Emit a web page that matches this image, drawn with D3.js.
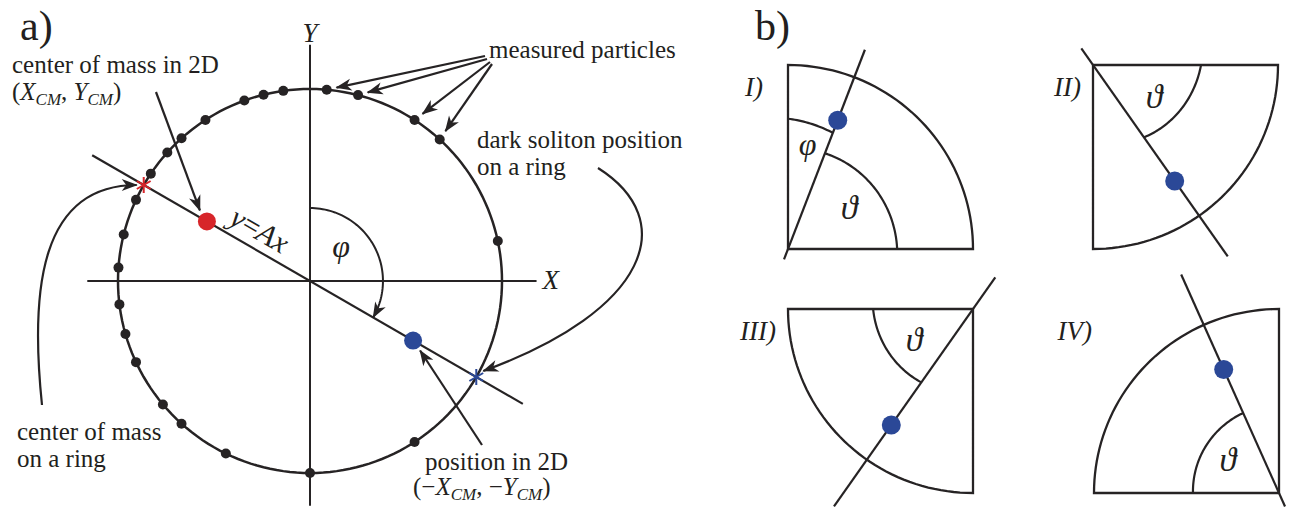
<!DOCTYPE html>
<html>
<head>
<meta charset="utf-8">
<script src="https://cdn.jsdelivr.net/npm/d3@7"></script>
<style>
  body { margin: 0; background: #fff; }
  svg text { font-family: "Liberation Serif", Tinos, "DejaVu Serif", "Times New Roman", serif !important; fill: #231f20; }
  .it { font-style: italic; }
</style>
</head>
<body>
<svg id="fig" width="1303" height="513" font-family="Liberation Serif, DejaVu Serif, serif"></svg>
<script>
// ---- panel a) values (ring units, angles in degrees ccw from +X) ----
const particleAngles = [12, 47.5, 57, 75.5, 85, 98, 104, 110, 123, 132, 138, 146, 155,
                        166, 176, 187, 196, 205, 220, 228, 244, 270, 303];
const lineAngle = -30;          // direction of y = Ax
const cmRadius = 0.62;          // |(X_CM, Y_CM)|
const phiRadius = 0.38;         // arc showing phi
const axisX = [-1.16, 1.18];
const axisY = [-1.17, 1.23];
const lineExtent = [-1.31, 1.28];

// ---- panel b) values (units of box size) ----
const quadrants = ["I)", "II)", "III)", "IV)"];
const tilt      = [21, 35, 35, 24];          // line angle from the vertical edge
const dotDist   = [0.75, 0.77, 0.77, 0.735];
const thetaEdge = [0.59, 0.584, 0.54, 0.465]; // theta arc radius at the edge
const thetaLine = [0.557, 0.48, 0.487, 0.476]; // theta arc radius at the line
const phiI      = [0.708, 0.676];             // phi arc in I), edge / line

const INK = "#262324", RED = "#d7252a", BLUE = "#2b4897";

const svg = d3.select("#fig");
const rad = d => d * Math.PI / 180;

// arrow head
svg.append("defs").append("marker")
    .attr("id", "head")
    .attr("viewBox", "-16 -7 18 14")
    .attr("refX", 0).attr("refY", 0)
    .attr("markerWidth", 18).attr("markerHeight", 14)
    .attr("markerUnits", "userSpaceOnUse")
    .attr("orient", "auto")
  .append("path")
    .attr("d", "M1,0 L-15,-6 L-10.5,0 L-15,6Z")
    .attr("fill", INK);

function star(g, cx, cy, color) {
  [90, 30, 150].forEach(a => {
    g.append("line")
      .attr("x1", cx - 8 * Math.cos(rad(a))).attr("y1", cy - 8 * Math.sin(rad(a)))
      .attr("x2", cx + 8 * Math.cos(rad(a))).attr("y2", cy + 8 * Math.sin(rad(a)))
      .attr("stroke", color).attr("stroke-width", 2);
  });
}

function addLabel(parent, x, y, parts, size) {
  const t = parent.append("text").attr("x", x).attr("y", y).style("font-size", size + "px");
  parts.forEach(p => {
    const s = t.append("tspan").text(p.t);
    if (p.it) s.attr("class", "it");
    if (p.sub) s.style("font-size", (size * 0.68) + "px").attr("dy", 5);
    if (p.up) s.attr("dy", -5);
  });
  return t;
}

// ================= panel a =================
const x = d3.scaleLinear().domain([-1, 1]).range([310 - 192, 310 + 192]);
const y = d3.scaleLinear().domain([-1, 1]).range([281 + 192, 281 - 192]);
const ga = svg.append("g");
const onRing = (a, r) => [x(r * Math.cos(rad(a))), y(r * Math.sin(rad(a)))];

// axes
ga.append("line").attr("x1", x(axisX[0])).attr("x2", x(axisX[1]))
  .attr("y1", y(0)).attr("y2", y(0)).attr("stroke", INK).attr("stroke-width", 2);
ga.append("line").attr("x1", x(0)).attr("x2", x(0))
  .attr("y1", y(axisY[0])).attr("y2", y(axisY[1])).attr("stroke", INK).attr("stroke-width", 2);
ga.append("text").attr("class", "it").attr("x", x(0)).attr("y", 42)
  .attr("text-anchor", "middle").style("font-size", "27px").text("Y");
ga.append("text").attr("class", "it").attr("x", x(axisX[1]) + 6).attr("y", y(0) + 8)
  .style("font-size", "27px").text("X");

// ring
const ringLine = d3.line().curve(d3.curveLinearClosed);
ga.append("path")
  .attr("d", ringLine(d3.range(0, 360, 2).map(a => onRing(a, 1))))
  .attr("fill", "none").attr("stroke", INK).attr("stroke-width", 2.5);

// line y = Ax
const p0 = onRing(lineAngle, lineExtent[0]), p1 = onRing(lineAngle, lineExtent[1]);
ga.append("line").attr("x1", p0[0]).attr("y1", p0[1]).attr("x2", p1[0]).attr("y2", p1[1])
  .attr("stroke", INK).attr("stroke-width", 2.2);

// phi arc
const phiPts = d3.range(90, lineAngle - 0.1, -2).map(a => onRing(a, phiRadius));
ga.append("path").attr("d", d3.line()(phiPts))
  .attr("fill", "none").attr("stroke", INK).attr("stroke-width", 2)
  .attr("marker-end", "url(#head)");
const phiLab = onRing(60, 0.2);
ga.append("text").attr("class", "it").attr("x", phiLab[0] + 12).attr("y", phiLab[1] + 9)
  .attr("text-anchor", "middle").style("font-size", "32px").text("φ");

// label y = Ax along the line
const lp = onRing(lineAngle + 180, 0.36);
const lab = ga.append("g").attr("transform", `translate(${lp[0]},${lp[1]}) rotate(${-lineAngle})`);
const lt = lab.append("text").attr("y", -9).attr("text-anchor", "middle").style("font-size", "30px");
lt.append("tspan").attr("class", "it").text("y");
lt.append("tspan").text("=");
lt.append("tspan").attr("class", "it").text("Ax");

// particles
ga.selectAll("circle.p").data(particleAngles).join("circle")
  .attr("class", "p")
  .attr("cx", a => onRing(a, 1)[0]).attr("cy", a => onRing(a, 1)[1])
  .attr("r", 5).attr("fill", INK);

// solitons and centres of mass
const rs = onRing(lineAngle + 180, 1), bs = onRing(lineAngle, 1);
star(ga, rs[0], rs[1], RED);
star(ga, bs[0], bs[1], BLUE);
const rc = onRing(lineAngle + 180, cmRadius), bc = onRing(lineAngle, cmRadius);
ga.append("circle").attr("cx", rc[0]).attr("cy", rc[1]).attr("r", 9).attr("fill", RED);
ga.append("circle").attr("cx", bc[0]).attr("cy", bc[1]).attr("r", 9).attr("fill", BLUE);

// annotations
function arrow(d) {
  ga.append("path").attr("d", d).attr("fill", "none").attr("stroke", INK)
    .attr("stroke-width", 2.2).attr("marker-end", "url(#head)");
}
arrow(`M156,92 L${rc[0] - 7},${rc[1] - 11}`);
[[485, 56, 85], [487, 59, 75.5], [490, 62, 57], [492, 64, 47.5]].forEach(([sx, sy, a]) => {
  const p = onRing(a, 1);
  const dx = sx - p[0], dy = sy - p[1], L = Math.hypot(dx, dy);
  arrow(`M${sx},${sy} L${p[0] + dx / L * 10},${p[1] + dy / L * 10}`);
});
arrow(`M42,405 C30,290 40,185 ${rs[0] - 7},${rs[1]}`);
arrow(`M598,168 C680,220 650,310 ${bs[0] + 7},${bs[1] - 6}`);
arrow(`M482,445 L${bc[0] + 7},${bc[1] + 10}`);

addLabel(ga, 12, 73, [{t: "center of mass in 2D"}], 25);
addLabel(ga, 12, 100, [{t: "("}, {t: "X", it: 1}, {t: "CM", it: 1, sub: 1}, {t: ", ", up: 1},
                       {t: "Y", it: 1}, {t: "CM", it: 1, sub: 1}, {t: ")", up: 1}], 25);
addLabel(ga, 489, 58, [{t: "measured particles"}], 25);
addLabel(ga, 477, 148, [{t: "dark soliton position"}], 25);
addLabel(ga, 477, 175, [{t: "on a ring"}], 25);
addLabel(ga, 17, 440, [{t: "center of mass"}], 25);
addLabel(ga, 17, 467, [{t: "on a ring"}], 25);
addLabel(ga, 425, 470, [{t: "position in 2D"}], 25);
addLabel(ga, 413, 495, [{t: "(−"}, {t: "X", it: 1}, {t: "CM", it: 1, sub: 1}, {t: ", −", up: 1},
                        {t: "Y", it: 1}, {t: "CM", it: 1, sub: 1}, {t: ")", up: 1}], 25);

svg.append("text").attr("x", 20).attr("y", 40).style("font-size", "42px").text("a)");
svg.append("text").attr("x", 755).attr("y", 40).style("font-size", "42px").text("b)");

// ================= panel b =================
const boxes = [
  {left: 788,  top: 65,  corner: [0, 0], h: 0,   v: 90},
  {left: 1093, top: 65,  corner: [0, 1], h: 0,   v: -90},
  {left: 788,  top: 309, corner: [1, 1], h: 180, v: 270},
  {left: 1094, top: 309, corner: [1, 0], h: 180, v: 90}
];
const lineBack = [0.06, 0.11, 0.21, 0.08];
const lineLen  = [1.16, 1.27, 1.31, 1.30];
const labelEnd = [25, 12, 12, 2];
const BW = 185, BH = 184;

quadrants.forEach((name, i) => {
  const b = boxes[i];
  const sx = d3.scaleLinear().domain([0, 1]).range([b.left, b.left + BW]);
  const sy = d3.scaleLinear().domain([0, 1]).range([b.top + BH, b.top]);
  const pt = (a, r) => [sx(b.corner[0] + r * Math.cos(rad(a))), sy(b.corner[1] + r * Math.sin(rad(a)))];
  const g = svg.append("g");
  const la = b.v + tilt[i] * Math.sign(b.h - b.v);
  const step = Math.sign(b.v - b.h);

  // sector frame
  const arcPts = d3.range(b.h, b.v + step * 0.1, step * 2).map(a => pt(a, 1));
  g.append("path")
    .attr("d", d3.line()([pt(0, 0), ...arcPts, pt(0, 0)]) + "Z")
    .attr("fill", "none").attr("stroke", INK).attr("stroke-width", 2.3)
    .attr("stroke-linejoin", "miter");

  // angle arcs, radius blended from edge to line
  function angleArc(a0, a1, r0, r1) {
    const s = Math.sign(a1 - a0), n = Math.abs(a1 - a0);
    const pts = d3.range(0, n + 0.01, 1).map(k => pt(a0 + s * k, r0 + (r1 - r0) * k / n));
    g.append("path").attr("d", d3.line()(pts))
      .attr("fill", "none").attr("stroke", INK).attr("stroke-width", 2.2);
  }
  angleArc(b.h, la, thetaEdge[i], thetaLine[i]);
  const tl = pt((b.h + la) / 2, (thetaEdge[i] + thetaLine[i]) / 2 * 0.7);
  g.append("text").attr("class", "it").attr("x", tl[0]).attr("y", tl[1])
    .attr("text-anchor", "middle").attr("dominant-baseline", "central")
    .style("font-size", "34px").text("ϑ");
  if (i === 0) {
    angleArc(b.v, la, phiI[0], phiI[1]);
    const pl = pt((b.v + la) / 2, (phiI[0] + phiI[1]) / 2 * 0.84);
    g.append("text").attr("class", "it").attr("x", pl[0]).attr("y", pl[1])
      .attr("text-anchor", "middle").attr("dominant-baseline", "central")
      .style("font-size", "32px").text("φ");
  }

  // line and dot
  const q0 = pt(la, -lineBack[i]), q1 = pt(la, lineLen[i]);
  g.append("line").attr("x1", q0[0]).attr("y1", q0[1]).attr("x2", q1[0]).attr("y2", q1[1])
    .attr("stroke", INK).attr("stroke-width", 2.2);
  const d = pt(la, dotDist[i]);
  g.append("circle").attr("cx", d[0]).attr("cy", d[1]).attr("r", 9.5).attr("fill", BLUE);

  g.append("text").attr("class", "it")
    .attr("x", b.left - labelEnd[i]).attr("y", b.top + 31)
    .attr("text-anchor", "end").style("font-size", "27px").text(name);
});
</script>
</body>
</html>
